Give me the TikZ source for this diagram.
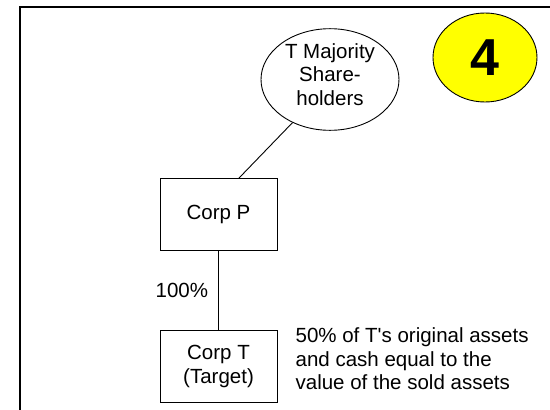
\documentclass[tikz,border=0pt]{standalone}
\usepackage{fontspec}
\setmainfont{Liberation Sans}
\usepackage{xcolor}
\definecolor{lineDark}{HTML}{000000}
\definecolor{badgeYellow}{HTML}{FFFF00}
\usetikzlibrary{positioning,calc,shapes.geometric}
\tikzset{%
  corpBox/.style={%
    rectangle,
    draw=lineDark,
    line width=0.9pt,
    fill=white,
    minimum width=117pt,
    minimum height=72pt,
    align=center,
    font=\fontsize{20.5}{23.5}\selectfont
  },
  holderEllipse/.style={%
    ellipse,
    draw=lineDark,
    line width=0.9pt,
    fill=white,
    minimum width=138pt,
    minimum height=93pt,
    inner sep=0pt,
    text depth=10pt,
    align=center,
    font=\fontsize{20.5}{23.5}\selectfont
  },
  stepBadge/.style={%
    ellipse,
    draw=lineDark,
    line width=0.9pt,
    fill=badgeYellow,
    minimum width=104pt,
    minimum height=89pt,
    font=\fontsize{52}{60}\selectfont\bfseries
  },
  plainLine/.style={%
    line width=0.9pt,
    color=lineDark
  },
  noteText/.style={%
    align=left,
    inner sep=0pt,
    font=\fontsize{20.5}{23.5}\selectfont
  }
}

\begin{document}
\begin{tikzpicture}[x=1pt,y=1pt,node distance=79pt]
            \useasboundingbox (0,0) rectangle (550,-410);
            \draw[line width=2pt, color=lineDark] (551,-7) -- (20,-7) -- (20,-411);

            \node[corpBox] (corpP) at (218.5,-214.5) {Corp P};
            \node[corpBox, below=of corpP] (corpT) {Corp T\\(Target)};
            \node[holderEllipse] (holders) at (330,-79.5) {T Majority\\Share-\\holders};
            \node[stepBadge] (badge) at (485,-57.5) {4};
            \node[noteText, anchor=west, right=18pt of corpT, yshift=7.5pt] (assets) {50\% of T\textquotesingle s original assets\\and cash equal to the\\value of the sold assets};

            \draw[plainLine] ($(corpP.north)+(20.5,0)$) -- (holders.229);
            \draw[plainLine] (corpP) -- node[left=8pt, inner sep=2pt, font=\fontsize{20.5}{23.5}\selectfont] {100\%} (corpT);
        \end{tikzpicture}
\end{document}
